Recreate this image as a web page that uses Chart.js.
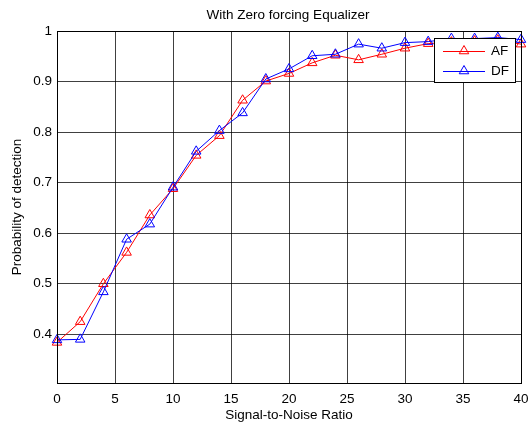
<!DOCTYPE html>
<html>
<head>
<meta charset="utf-8">
<title>With Zero forcing Equalizer</title>
<script src="https://cdn.jsdelivr.net/npm/chart.js@4/dist/chart.umd.min.js"></script>
<style>
  html, body { margin: 0; padding: 0; background: #fff; }
  #wrap { position: relative; width: 529px; height: 424px; }
</style>
</head>
<body>
<div id="wrap"><canvas id="pdChart"></canvas></div>
<script>
// SNR sweep (dB) and detection probability per relaying scheme
const snr = [0, 2, 4, 6, 8, 10, 12, 14, 16, 18, 20, 22, 24, 26, 28, 30, 32, 34, 36, 38, 40];
const pdAF = [0.384, 0.425, 0.500, 0.562, 0.636, 0.688, 0.754, 0.793, 0.863, 0.901, 0.916,
              0.937, 0.952, 0.943, 0.954, 0.966, 0.975, 0.978, 0.980, 0.982, 0.974];
const pdDF = [0.389, 0.390, 0.484, 0.588, 0.618, 0.691, 0.762, 0.803, 0.838, 0.905, 0.925,
              0.951, 0.954, 0.974, 0.966, 0.977, 0.979, 0.985, 0.985, 0.987, 0.983];
const yTicks = [0.4, 0.5, 0.6, 0.7, 0.8, 0.9, 1];
const chartTitle = 'With Zero forcing Equalizer';

const FONT = "'Liberation Sans', Arial, sans-serif";
const fontSize = 13.5;
const AF_COLOR = '#ff0000';
const DF_COLOR = '#0000ff';

const toPoints = ys => snr.map((x, i) => ({ x: x, y: ys[i] }));

// box around the axes and a title centred over them, like a matlab figure
const axesBox = {
    id: 'axesBox',
    afterDraw(chart) {
        const { ctx, chartArea: a } = chart;
        const l = Math.round(a.left) + 0.5, t = Math.round(a.top) + 0.5;
        const r = Math.round(a.right) + 0.5, b = Math.round(a.bottom) + 0.5;
        ctx.save();
        ctx.strokeStyle = '#000';
        ctx.lineWidth = 1;
        ctx.strokeRect(l, t, r - l, b - t);
        ctx.fillStyle = '#000';
        ctx.font = fontSize + 'px ' + FONT;
        ctx.textAlign = 'center';
        ctx.textBaseline = 'middle';
        ctx.fillText(chartTitle, (a.left + a.right) / 2 - 1, a.top - 16);
        ctx.restore();
    }
};

function triangle(ctx, x, y, r) {
    const s = Math.sin(Math.PI / 3) * r;
    ctx.beginPath();
    ctx.moveTo(x, y - r);
    ctx.lineTo(x + s, y + r / 2);
    ctx.lineTo(x - s, y + r / 2);
    ctx.closePath();
    ctx.stroke();
}

// legend box in the upper right corner of the plot
const boxLegend = {
    id: 'boxLegend',
    afterDraw(chart) {
        const { ctx, chartArea: a } = chart;
        const sets = chart.data.datasets;
        const w = 81, rowH = 20;
        const h = sets.length * rowH + 4;
        const x0 = Math.round(a.right) - 6 - w, y0 = Math.round(a.top) + 7;
        ctx.save();
        ctx.fillStyle = '#fff';
        ctx.fillRect(x0, y0, w, h);
        ctx.strokeStyle = '#000';
        ctx.lineWidth = 1;
        ctx.strokeRect(x0 + 0.5, y0 + 0.5, w, h);
        ctx.font = fontSize + 'px ' + FONT;
        ctx.textBaseline = 'middle';
        sets.forEach((ds, i) => {
            const cy = y0 + 13 + i * rowH;
            const col = ds.pointBorderColor;
            ctx.fillStyle = col;
            ctx.fillRect(x0 + 9, cy, 42, 1);
            ctx.strokeStyle = col;
            ctx.lineWidth = 1;
            triangle(ctx, x0 + 30, cy, ds.pointRadius);
            ctx.fillStyle = '#000';
            ctx.fillText(ds.label, x0 + 57, cy);
        });
        ctx.restore();
    }
};

const ctx = document.getElementById('pdChart').getContext('2d');
new Chart(ctx, {
    type: 'line',
    data: {
        datasets: [
            {
                label: 'AF',
                data: toPoints(pdAF),
                borderColor: AF_COLOR,
                borderWidth: 1,
                pointStyle: 'triangle',
                pointRadius: 5.5,
                pointBorderWidth: 1,
                pointBackgroundColor: 'rgba(0,0,0,0)',
                pointBorderColor: AF_COLOR,
                order: 1,
                clip: false
            },
            {
                label: 'DF',
                data: toPoints(pdDF),
                borderColor: DF_COLOR,
                borderWidth: 1,
                pointStyle: 'triangle',
                pointRadius: 5.5,
                pointBorderWidth: 1,
                pointBackgroundColor: 'rgba(0,0,0,0)',
                pointBorderColor: DF_COLOR,
                order: 0,
                clip: false
            }
        ]
    },
    options: {
        responsive: true,
        maintainAspectRatio: false,
        animation: false,
        layout: { padding: { left: 0, right: 8, top: 31, bottom: 0 } },
        elements: { line: { tension: 0 } },
        scales: {
            x: {
                type: 'linear',
                min: 0,
                max: 40,
                ticks: {
                    stepSize: 5,
                    padding: 8,
                    color: '#000',
                    font: { size: fontSize, family: FONT }
                },
                grid: { color: 'rgba(0,0,0,0.75)', drawTicks: false },
                border: { color: '#000' },
                title: {
                    display: true,
                    text: 'Signal-to-Noise Ratio',
                    color: '#000',
                    font: { size: fontSize, family: FONT },
                    padding: { top: 0, bottom: 1 }
                },
                afterFit(scale) {
                    scale.height = 41;
                    scale.paddingRight = 0;
                    scale.paddingLeft = 0;
                }
            },
            y: {
                min: 0.3037,
                max: 1,
                afterBuildTicks(scale) {
                    scale.ticks = yTicks.map(v => ({ value: v }));
                },
                ticks: {
                    padding: 5,
                    color: '#000',
                    font: { size: fontSize, family: FONT },
                    callback: v => String(Math.round(v * 10) / 10)
                },
                grid: { color: 'rgba(0,0,0,0.75)', drawTicks: false },
                border: { color: '#000' },
                title: {
                    display: true,
                    text: 'Probability of detection',
                    color: '#000',
                    font: { size: fontSize, family: FONT },
                    padding: { top: 9, bottom: 0 }
                },
                afterFit(scale) {
                    scale.width = 57;
                    scale.paddingTop = 0;
                    scale.paddingBottom = 0;
                }
            }
        },
        plugins: {
            legend: { display: false },
            tooltip: { enabled: false },
            title: { display: false }
        }
    },
    plugins: [axesBox, boxLegend]
});
</script>
</body>
</html>
